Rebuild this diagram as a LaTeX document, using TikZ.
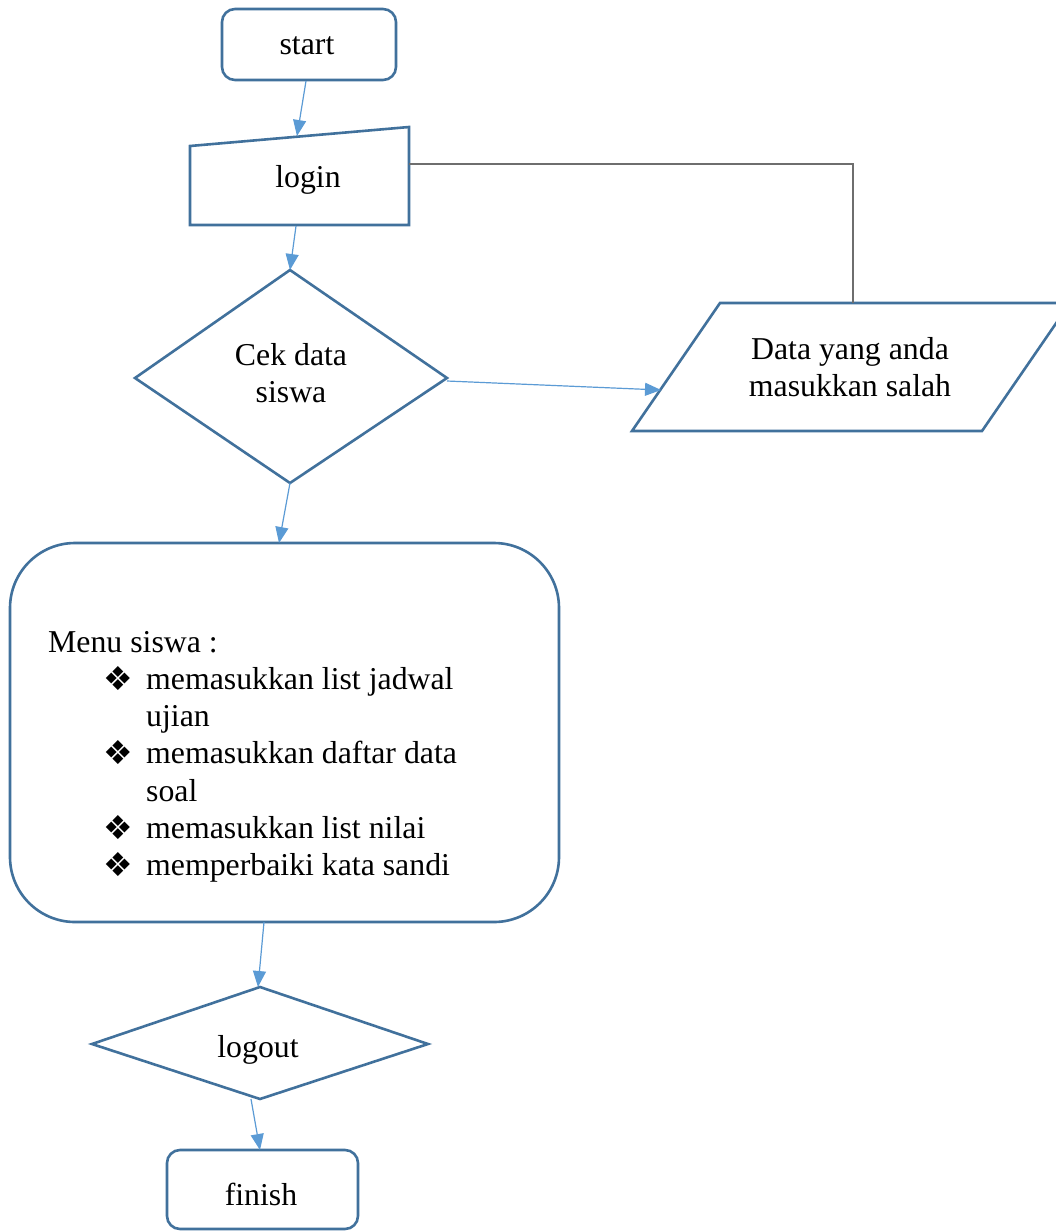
\documentclass[tikz,border=0pt]{standalone}
\usepackage{fontspec}
\setmainfont{Liberation Serif}
\newfontfamily\symfont{DejaVu Sans}
\usetikzlibrary{arrows.meta}
\definecolor{shapeblue}{HTML}{41719C}
\definecolor{arrowblue}{HTML}{5B9BD5}
\definecolor{linegray}{HTML}{6E6E6E}
\newcommand{\bigfs}{\fontsize{31.8}{37.3}\selectfont}
\newcommand{\bul}{{\symfont\fontsize{33}{33}\selectfont\raisebox{-1pt}{❖}}}
\newcommand{\ml}[1]{\begin{tabular}[t]{@{}c@{}}#1\end{tabular}}
\tikzset{
  shapeline/.style={draw=shapeblue, line width=2.6pt, line join=miter},
  flow/.style={draw=arrowblue, line width=1.2pt, -{Triangle[length=16pt,width=13pt]}},
  back/.style={draw=linegray, line width=1.3pt},
  lbl/.style={font=\bigfs, inner sep=0pt, anchor=base, align=center}
}
\begin{document}
\begin{tikzpicture}[x=1pt,y=-1pt]
\useasboundingbox (0,0) rectangle (1056,1232);
\clip (0,0) rectangle (1056,1232);
\fill[white] (0,0) rectangle (1056,1232);

% shapes
\draw[shapeline, rounded corners=13pt] (222,9) rectangle (396,80);
\draw[shapeline] (190,146) -- (409,127) -- (409,225) -- (190,225) -- cycle;
\draw[shapeline] (290,270) -- (447,378) -- (290,483) -- (135,378) -- cycle;
\draw[shapeline] (720,303) -- (1070,303) -- (982,431) -- (632,431) -- cycle;
\draw[shapeline, rounded corners=65pt] (10,543) rectangle (559,922);
\draw[shapeline] (260,987) -- (428,1044) -- (260,1099) -- (92,1044) -- cycle;
\draw[shapeline, rounded corners=13pt] (167,1150) rectangle (358,1229);

% labels
\node[lbl] (start) at (307,54) {start};
\node[lbl] (login) at (308,187) {login};
\node[lbl] (cek) at (291,365) {\ml{Cek data\\siswa}};
\node[lbl] (salah) at (850,359) {\ml{Data yang anda\\masukkan salah}};
\node[font=\bigfs, inner sep=0pt, anchor=base west] (menu) at (48,652) {%
  \begin{tabular}[t]{@{}p{98pt}@{}l@{}}
  \multicolumn{2}{@{}l@{}}{Menu siswa :}\\
  \hspace*{55pt}\bul & memasukkan list jadwal\\
   & ujian\\
  \hspace*{55pt}\bul & memasukkan daftar data\\
   & soal\\
  \hspace*{55pt}\bul & memasukkan list nilai\\
  \hspace*{55pt}\bul & memperbaiki kata sandi
  \end{tabular}};
\node[lbl] (logout) at (258,1057) {logout};
\node[lbl] (finish) at (261,1205) {finish};

% connector end points
\coordinate (startS) at (306,81);
\coordinate (loginN) at (297,136);
\coordinate (loginS) at (296,226);
\coordinate (loginE) at (409,164);
\coordinate (cekN) at (290,270);
\coordinate (cekE) at (447,381);
\coordinate (cekS) at (290,483);
\coordinate (salahW) at (661,390);
\coordinate (salahN) at (853,303);
\coordinate (menuN) at (279,543);
\coordinate (menuS) at (264,922);
\coordinate (logoutN) at (258,987);
\coordinate (logoutS) at (251,1099);
\coordinate (finishN) at (260,1150);

% connectors
\draw[flow] (startS) -- (loginN);
\draw[flow] (loginS) -- (cekN);
\draw[flow] (cekE) -- (salahW);
\draw[flow] (cekS) -- (menuN);
\draw[flow] (menuS) -- (logoutN);
\draw[flow] (logoutS) -- (finishN);
\draw[back] (loginE) -| (salahN);
\end{tikzpicture}
\end{document}
